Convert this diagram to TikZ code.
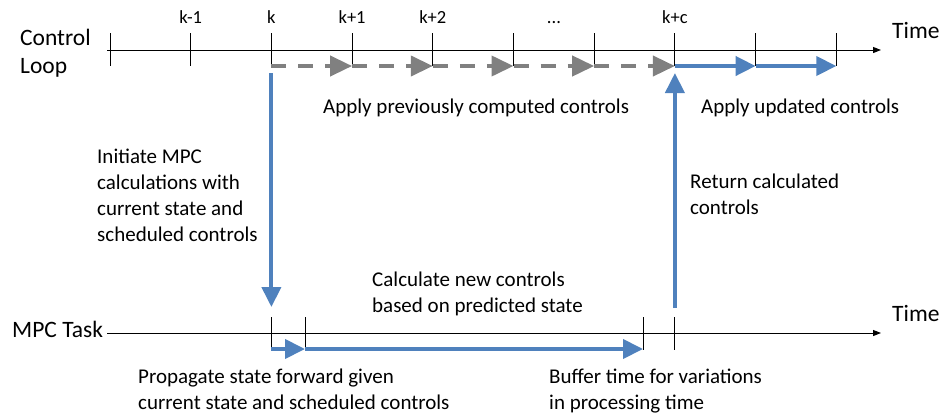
\documentclass[tikz,border=0pt]{standalone}
\usepackage{fontspec}
\setmainfont{Carlito}
\usetikzlibrary{arrows.meta}
\definecolor{ctrlblue}{RGB}{79,129,189}
\definecolor{ctrlgray}{RGB}{128,128,128}

\begin{document}
\begin{tikzpicture}[x=1pt,y=-1pt,
  axis/.style={line width=1pt,-{Triangle[length=8pt,width=6pt]}},
  tickline/.style={line width=1pt},
  prevctl/.style={ctrlgray,line width=4pt,dash pattern=on 15pt off 12pt,
    -{Triangle[length=22pt,width=20pt]}},
  newctl/.style={ctrlblue,line width=4pt,-{Triangle[length=20pt,width=19pt]}},
  biglabel/.style={font=\fontsize{23.5}{28}\selectfont,inner sep=0pt,align=left},
  ticklabel/.style={font=\fontsize{18.5}{22}\selectfont,inner sep=0pt},
  note/.style={font=\fontsize{21}{26}\selectfont,inner sep=0pt,align=left},
]
\useasboundingbox (0,0) rectangle (943,416);

% ---------- control loop time axis ----------
\coordinate (clstart) at (107,50);
\coordinate (clend) at (881,50);
\draw[axis] (clstart) -- (clend);
\foreach \i in {0,...,9}{
  \coordinate (ctop\i) at ({110+80.7*\i},33);
  \coordinate (cbot\i) at ({110+80.7*\i},66);
  \draw[tickline] (ctop\i) -- (cbot\i);
}
\node[ticklabel,anchor=base] (lkm1) at (190.7,23) {k-1};
\node[ticklabel,anchor=base] (lk)   at (271.4,23) {k};
\node[ticklabel,anchor=base] (lkp1) at (352.1,23) {k+1};
\node[ticklabel,anchor=base] (lkp2) at (432.8,23) {k+2};
\node[ticklabel,anchor=base] (ldots) at (554,23) {...};
\node[ticklabel,anchor=base] (lkpc) at (674.9,23) {k+c};

% multi-line nodes are anchored at the baseline of their last line
\node[biglabel,anchor=base west] (cl) at (20,73) {Control\\Loop};
\node[biglabel,anchor=base west] (time1) at (892,38) {Time};

% previously computed controls (dashed) and updated controls (solid)
\foreach \a/\b in {2/3,3/4,4/5,5/6,6/7}{
  \draw[prevctl] (cbot\a) -- (cbot\b);
}
\draw[newctl] (cbot7) -- (cbot8);
\draw[newctl] (cbot8) -- (cbot9);

\node[note,anchor=base west] (applyprev) at (323,113) {Apply previously computed controls};
\node[note,anchor=base west] (applynew) at (701,113) {Apply updated controls};

% ---------- MPC task time axis ----------
\coordinate (mpstart) at (107,333);
\coordinate (mpend) at (881,333);
\draw[axis] (mpstart) -- (mpend);
\foreach \n/\x in {0/271.4,1/305,2/643,3/674.9}{
  \coordinate (mtop\n) at (\x,317);
  \coordinate (mbot\n) at (\x,350);
  \draw[tickline] (mtop\n) -- (mbot\n);
}
\coordinate (mline0) at (271.4,349);
\coordinate (mline1) at (305,349);
\coordinate (mline2) at (643,349);
\draw[newctl] (mline0) -- (mline1);
\draw[newctl] (mline1) -- (mline2);

\node[biglabel,anchor=base west] (mpc) at (12,337) {MPC Task};
\node[biglabel,anchor=base west] (time2) at (892,321) {Time};

% ---------- hand-over between the two loops ----------
\coordinate (downstart) at (271.4,73);
\coordinate (downend) at (271.4,307);
\coordinate (upstart) at (674.9,308);
\coordinate (upend) at (674.9,73);
\draw[newctl] (downstart) -- (downend);
\draw[newctl] (upstart) -- (upend);

\node[note,anchor=base west] (initiate) at (97,241)
  {Initiate MPC\\calculations with\\current state and\\scheduled controls};
\node[note,anchor=base west] (return) at (690,214)
  {Return calculated\\controls};
\node[note,anchor=base west] (calc) at (372,312)
  {Calculate new controls\\based on predicted state};
\node[note,anchor=base west] (propagate) at (138,409)
  {Propagate state forward given\\current state and scheduled controls};
\node[note,anchor=base west] (buffer) at (549,409)
  {Buffer time for variations\\in processing time};
\end{tikzpicture}
\end{document}
